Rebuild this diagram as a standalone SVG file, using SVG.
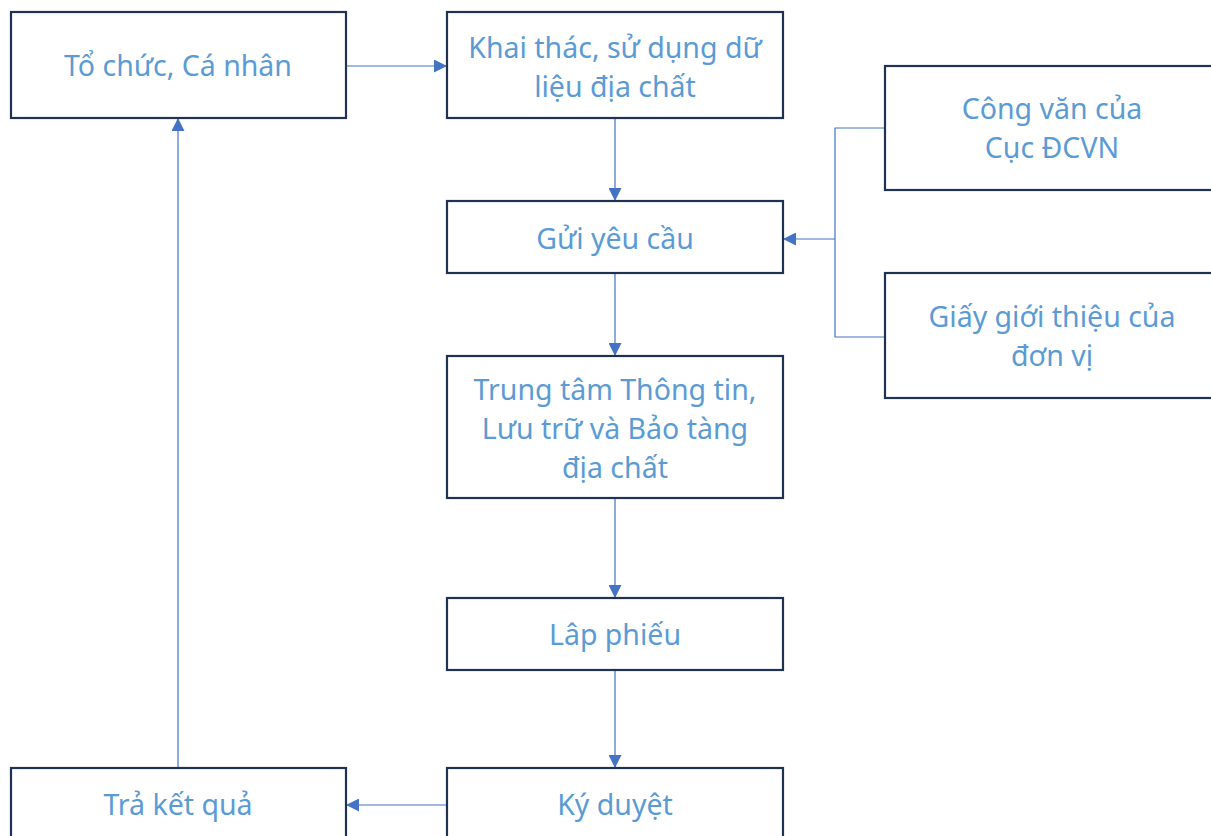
<svg xmlns="http://www.w3.org/2000/svg" width="1211" height="836" viewBox="0 0 1211 836">
<defs>
<style>
.box{fill:#ffffff;stroke:#1f3251;stroke-width:2.2}
.t{font-family:"Noto Sans","Open Sans",sans-serif;font-size:28.5px;fill:#5b9bd5;text-anchor:middle}
.c{fill:none;stroke:#4472c4;stroke-width:1.2}
</style>
<marker id="ah" viewBox="0 0 10 10" refX="10" refY="5" markerWidth="13" markerHeight="13" markerUnits="userSpaceOnUse" orient="auto">
<path d="M0,0 L10,5 L0,10 z" fill="#4472c4"/>
</marker>
</defs>
<rect width="1211" height="836" fill="#ffffff"/>
<g id="connectors">
<line class="c" x1="346" y1="66" x2="447" y2="66" marker-end="url(#ah)"/>
<line class="c" x1="615" y1="118" x2="615" y2="201" marker-end="url(#ah)"/>
<line class="c" x1="615" y1="273" x2="615" y2="356" marker-end="url(#ah)"/>
<line class="c" x1="615" y1="498" x2="615" y2="598" marker-end="url(#ah)"/>
<line class="c" x1="615" y1="670" x2="615" y2="768" marker-end="url(#ah)"/>
<line class="c" x1="447" y1="805" x2="346" y2="805" marker-end="url(#ah)"/>
<line class="c" x1="178" y1="768" x2="178" y2="118" marker-end="url(#ah)"/>
<polyline class="c" points="885,128 835,128 835,337 885,337"/>
<line class="c" x1="835" y1="239" x2="783" y2="239" marker-end="url(#ah)"/>
</g>
<g id="n-tochuc"><rect class="box" x="11" y="12" width="335" height="106"/><text class="t" x="178" y="76">Tổ chức, Cá nhân</text></g>
<g id="n-khaithac"><rect class="box" x="447" y="12" width="336" height="106"/><text class="t" x="615" y="58">Khai thác, sử dụng dữ</text><text class="t" x="615" y="97">liệu địa chất</text></g>
<g id="n-congvan"><rect class="box" x="885" y="66" width="340" height="124"/><text class="t" x="1052" y="119">Công văn của</text><text class="t" x="1052" y="158">Cục ĐCVN</text></g>
<g id="n-guiyeucau"><rect class="box" x="447" y="201" width="336" height="72"/><text class="t" x="615" y="249">Gửi yêu cầu</text></g>
<g id="n-giaygioithieu"><rect class="box" x="885" y="273" width="340" height="125"/><text class="t" x="1052" y="327">Giấy giới thiệu của</text><text class="t" x="1052" y="366">đơn vị</text></g>
<g id="n-trungtam"><rect class="box" x="447" y="356" width="336" height="142"/><text class="t" x="615" y="400">Trung tâm Thông tin,</text><text class="t" x="615" y="439">Lưu trữ và Bảo tàng</text><text class="t" x="615" y="478">địa chất</text></g>
<g id="n-lapphieu"><rect class="box" x="447" y="598" width="336" height="72"/><text class="t" x="615" y="645">Lâp phiếu</text></g>
<g id="n-kyduyet"><rect class="box" x="447" y="768" width="336" height="80"/><text class="t" x="615" y="815">Ký duyệt</text></g>
<g id="n-traketqua"><rect class="box" x="11" y="768" width="335" height="80"/><text class="t" x="178" y="815">Trả kết quả</text></g>
</svg>
